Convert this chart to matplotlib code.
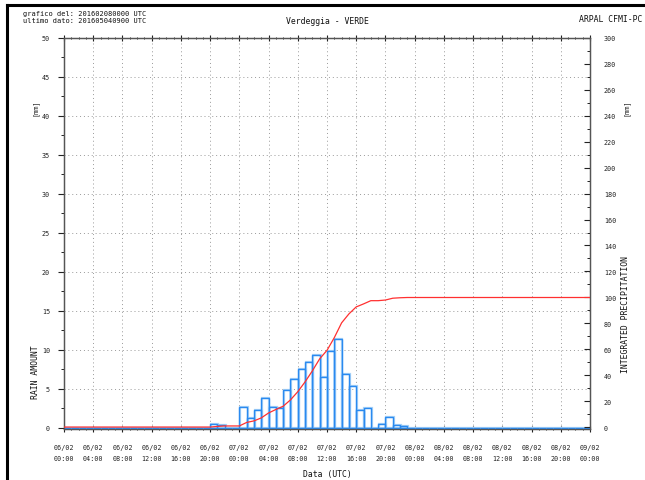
import numpy as np
import matplotlib
matplotlib.use("Agg")
import matplotlib.pyplot as plt
from matplotlib.ticker import MultipleLocator
from matplotlib.lines import Line2D

# hourly rain [mm], 06/02 00:00 -> 09/02 00:00 (72 hours)
rain_day1 = [0, 0, 0, 0, 0, 0, 0, 0, 0, 0, 0, 0,
             0, 0, 0, 0, 0, 0, 0, 0, 0.5, 0.35, 0, 0]
rain_day2 = [2.7, 1.2, 2.3, 3.8, 2.7, 2.5, 4.9, 6.3, 7.6, 8.5, 9.3, 6.5,
             9.8, 11.4, 6.9, 5.4, 2.3, 2.5, 0, 0.5, 1.4, 0.35, 0.2, 0]
rain_day3 = [0, 0, 0, 0, 0, 0, 0, 0, 0, 0, 0, 0,
             0, 0, 0, 0, 0, 0, 0, 0, 0, 0, 0, 0]
rain = np.array(rain_day1 + rain_day2 + rain_day3)
hours = np.arange(len(rain))

tick_dates = ["06/02", "06/02", "06/02", "06/02", "06/02", "06/02",
              "07/02", "07/02", "07/02", "07/02", "07/02", "07/02",
              "08/02", "08/02", "08/02", "08/02", "08/02", "08/02", "09/02"]
tick_times = ["00:00", "04:00", "08:00", "12:00", "16:00", "20:00"] * 3 + ["00:00"]

# integrated precipitation, plotted at the end of each hour
cum = np.concatenate([[0], np.cumsum(rain)])
cum_hours = np.arange(len(cum))

W, H = 645, 481
fig = plt.figure(figsize=(W / 100, H / 100), dpi=100)
plt.rcParams["font.family"] = "DejaVu Sans Mono"
fs_tick = 4.9
fs = 5.9

ax = fig.add_axes([64 / W, 1 - 430 / H, 526 / W, 391 / H])
ax2 = ax.twinx()

# bars: light shadow then main outline
ax.bar(hours + 0.12, rain, width=1.0, align="edge", facecolor="none",
       edgecolor="#a8d2f7", linewidth=1.6, zorder=2)
ax.bar(hours, rain, width=1.0, align="edge", facecolor="none",
       edgecolor="#2a8af0", linewidth=1.0, zorder=3)

ax2.plot(cum_hours, cum, color="#ff3030", linewidth=0.9, zorder=4)

ax.set_xlim(0, 72)
ax.set_ylim(-0.15, 50)
ax2.set_ylim(-1.5, 300)

ax.set_xticks(np.arange(0, 73, 4))
ax.set_xticklabels([f"{d}\n{t}" for d, t in zip(tick_dates, tick_times)],
                   fontsize=fs_tick, linespacing=1.9)
ax.xaxis.set_minor_locator(MultipleLocator(1))
ax.yaxis.set_minor_locator(MultipleLocator(2.5))
ax2.yaxis.set_minor_locator(MultipleLocator(10))
ax.set_yticks(np.arange(0, 51, 5))
ax2.set_yticks(np.arange(0, 301, 20))

ax.tick_params(axis="y", which="major", labelsize=fs_tick, length=4, width=0.8,
               pad=6, colors="#222222")
ax.tick_params(axis="y", which="minor", length=2, width=0.6)
ax.tick_params(axis="x", which="major", labelsize=fs_tick, length=4, width=0.8,
               pad=9, colors="#222222", top=True, direction="inout")
ax.tick_params(axis="x", which="minor", length=2, width=0.6, top=True,
               direction="inout")
ax2.tick_params(axis="y", which="major", labelsize=fs_tick, length=4, width=0.8,
                pad=10, direction="in", colors="#222222")
ax2.tick_params(axis="y", which="minor", length=2, width=0.6, direction="in")

ax.grid(True, which="major", linestyle=(0, (1, 3)), color="#999999",
        linewidth=0.7)
for a in (ax, ax2):
    for s in a.spines.values():
        s.set_color("#555555")
        s.set_linewidth(0.9)

# texts
def ftext(x, y, s, size=fs, **kw):
    fig.text(x / W, 1 - y / H, s, fontsize=size, color="#111111", **kw)

ftext(23, 14, "grafico del: 201602080000 UTC", size=5.0, ha="left", va="center")
ftext(23, 21, "ultimo dato: 201605040900 UTC", size=5.0, ha="left", va="center")
ftext(327, 22, "Verdeggia - VERDE", ha="center", va="center")
ftext(642, 20, "ARPAL CFMI-PC", ha="right", va="center")
ftext(35, 372, "RAIN AMOUNT", rotation=90, ha="center", va="center")
ftext(35, 108, "[mm]", size=fs_tick, rotation=90, ha="center", va="center")
ftext(626, 315, "INTEGRATED PRECIPITATION", rotation=90, ha="center", va="center")
ftext(626, 108, "[mm]", size=fs_tick, rotation=90, ha="center", va="center")
ftext(327, 475, "Data (UTC)", ha="center", va="center")

# frame around the figure (left and top)
fig.add_artist(Line2D([7 / W, 7 / W], [0, 1 - 6 / H], color="black",
                      linewidth=2.2, transform=fig.transFigure))
fig.add_artist(Line2D([7 / W, 1], [1 - 6 / H, 1 - 6 / H], color="black",
                      linewidth=2.2, transform=fig.transFigure))

fig.savefig("out.png", dpi=100)
